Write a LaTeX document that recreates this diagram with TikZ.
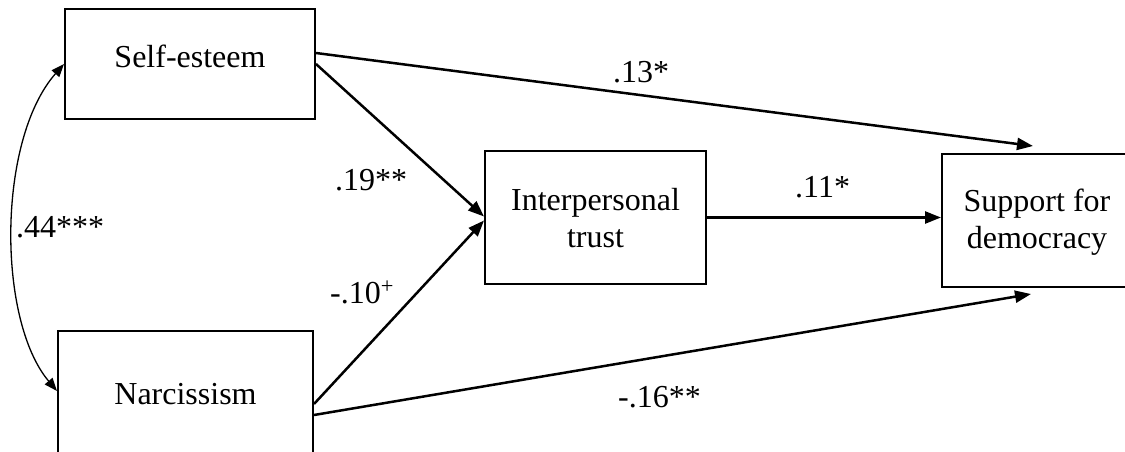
\documentclass[tikz,border=0pt]{standalone}
\usepackage{fontspec}
\setmainfont{Liberation Serif}
\usetikzlibrary{arrows.meta,calc}
\begin{document}
\begin{tikzpicture}[x=1pt,y=-1pt,
  box/.style={draw, line width=2pt, inner sep=0pt},
  txt/.style={font=\fontsize{32}{37}\selectfont, inner sep=0pt, align=center},
  lab/.style={font=\fontsize{32}{37}\selectfont, inner sep=0pt, anchor=base west},
  path/.style={draw, line width=2.5pt, -{Triangle[length=16pt,width=12pt]}},
  corr/.style={draw, line width=1.3pt, {Triangle[length=13pt,width=10pt]}-{Triangle[length=13pt,width=10pt]}}
]
\useasboundingbox (0,0) rectangle (1125,452);
\clip (0,0) rectangle (1125,452);
% boxes
\node[box, minimum width=250pt, minimum height=110pt] (se) at (190,64) {};
\node[box, minimum width=255pt, minimum height=140pt] (na) at (185.5,401) {};
\node[box, minimum width=221pt, minimum height=133pt] (tr) at (595.5,217.5) {};
\node[box, minimum width=190pt, minimum height=133pt] (sd) at (1037,220.5) {};
% box texts
\node[txt, anchor=base] (set) at (190,68) {Self-esteem};
\node[txt, anchor=base] (nat) at (185.5,404) {Narcissism};
\node[txt, anchor=base] (trt) at (595.5,247) {Interpersonal\\trust};
\node[txt, anchor=base] (sdt) at (1037,248) {Support for\\democracy};
% connectors
\coordinate (seA) at ($(se.north east)+(0,45)$);
\coordinate (naA) at ($(na.north east)+(0,74)$);
\coordinate (naB) at ($(na.north east)+(0,85)$);
\coordinate (sdTop) at ($(sd.north)+(-4,-7)$);
\coordinate (sdBot) at ($(sd.south)+(-6,6)$);
\draw[path] (seA) -- (sdTop);
\draw[path] (se.east) -- ([yshift=1pt]tr.west);
\draw[path] (naA) -- ([yshift=-3pt]tr.west);
\draw[path] (tr.east) -- (tr.east -| sd.west);
\draw[path] (naB) -- (sdBot);
\draw[corr] (se.west) .. controls (-3,140) and (-3,320) .. ($(na.north west)+(0,61)$);
% labels
\node[lab] (l13) at (613,83) {.13*};
\node[lab] (l19) at (335,190) {.19**};
\node[lab] (l11) at (795,197) {.11*};
\node[lab] (l10) at (330,303) {-.10\textsuperscript{+}};
\node[lab] (l16) at (618,407) {-.16**};
\node[lab] (l44) at (16,237) {.44***};
\end{tikzpicture}
\end{document}
